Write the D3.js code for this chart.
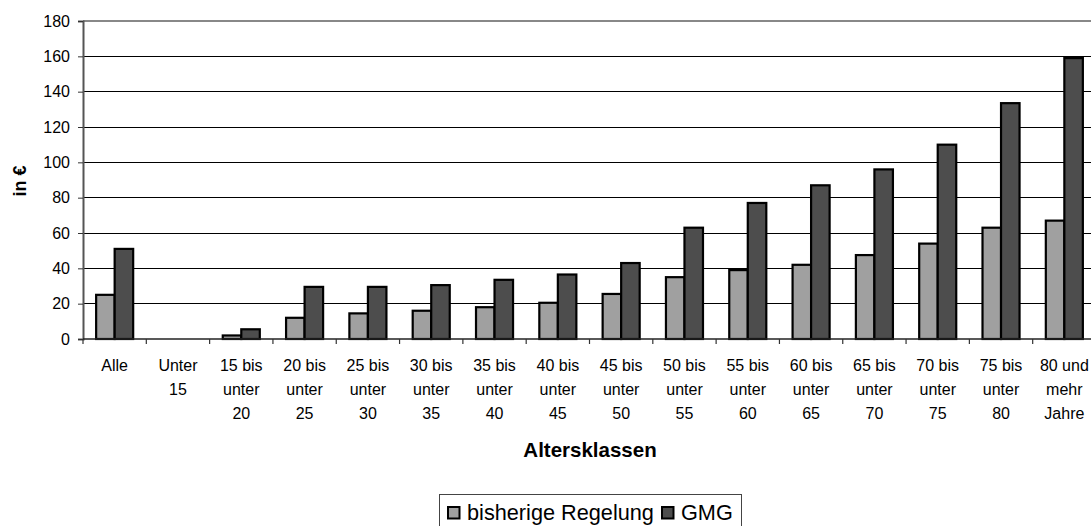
<!DOCTYPE html>
<html><head><meta charset="utf-8">
<script src="https://cdn.jsdelivr.net/npm/d3@7"></script>
<style>html,body{margin:0;padding:0;background:#fff;overflow:hidden}svg{display:block}text{font-family:"Liberation Sans",Arial,sans-serif}</style>
</head><body><svg id="c" width="1091" height="526"></svg>
<script>
const categories = [["Alle"],["Unter","15"],["15 bis","unter","20"],["20 bis","unter","25"],["25 bis","unter","30"],["30 bis","unter","35"],["35 bis","unter","40"],["40 bis","unter","45"],["45 bis","unter","50"],["50 bis","unter","55"],["55 bis","unter","60"],["60 bis","unter","65"],["65 bis","unter","70"],["70 bis","unter","75"],["75 bis","unter","80"],["80 und","mehr","Jahre"]];
const seriesNames = ["bisherige Regelung","GMG"];
const bisherige = [25, 0, 2, 12, 14.5, 16, 18, 20.5, 25.5, 35, 39, 42, 47.5, 54, 63, 67];
const gmg = [51, 0, 5.5, 29.5, 29.5, 30.5, 33.5, 36.5, 43, 63, 77, 87, 96, 110, 133.5, 159];
const yTicks = [0,20,40,60,80,100,120,140,160,180];
const colors = ["#a0a0a0","#4d4d4d"];

const svg = d3.select("#c");
const L = 83, R = 1096, T = 21, B = 339;
const keys = categories.map((c,i)=>i);
const x = d3.scaleBand().domain(keys).range([L,R]).padding(0);
const y = d3.scaleLinear().domain([0,180]).range([B,T]);
const bw = x.bandwidth(), gw = bw*0.585;
const x1 = d3.scaleBand().domain([0,1]).range([(bw-gw)/2,(bw+gw)/2]).padding(0);

// gridlines
svg.append("g").selectAll("line").data(yTicks.filter(v=>v>0&&v<180)).join("line")
  .attr("x1",L).attr("x2",R).attr("y1",d=>y(d)).attr("y2",d=>y(d))
  .attr("stroke","#000").attr("stroke-width",1).attr("shape-rendering","crispEdges");
// top border
svg.append("line").attr("x1",L).attr("x2",R).attr("y1",y(180)).attr("y2",y(180))
  .attr("stroke","#888").attr("stroke-width",2);

// y axis
const ya = svg.append("g").attr("transform",`translate(${L},0)`)
  .call(d3.axisLeft(y).tickValues(yTicks).tickSize(5).tickPadding(8));
ya.select(".domain").attr("stroke","#555").attr("stroke-width",2);
ya.selectAll(".tick line").attr("stroke","#333");
ya.selectAll("text").attr("font-size","16px").attr("fill","#000").attr("font-family","Liberation Sans, Arial, sans-serif");

// bars
const data = keys.map(i=>({i, v:[bisherige[i], gmg[i]]}));
const g = svg.append("g").selectAll("g").data(data).join("g")
  .attr("transform",d=>`translate(${x(d.i)},0)`);
g.selectAll("rect").data(d=>d.v.map((v,s)=>({v,s}))).join("rect")
  .attr("x",d=>x1(d.s)).attr("width",x1.bandwidth())
  .attr("y",d=>y(d.v)).attr("height",d=>y(0)-y(d.v))
  .attr("fill",d=>colors[d.s]).attr("stroke","#000").attr("stroke-width",2.2);

// x axis
const xa = svg.append("g").attr("transform",`translate(0,${B})`);
xa.append("line").attr("x1",L).attr("x2",R).attr("stroke","#222").attr("stroke-width",1.5);
xa.selectAll("line.tk").data(keys.concat([keys.length])).join("line").attr("class","tk")
  .attr("x1",d=>L+d*bw).attr("x2",d=>L+d*bw).attr("y1",0).attr("y2",5)
  .attr("stroke","#333").attr("stroke-width",1.2);
const lab = xa.selectAll("text").data(keys).join("text")
  .attr("x",d=>x(d)+bw/2).attr("text-anchor","middle").attr("font-size","16px").attr("fill","#000");
lab.selectAll("tspan").data(d=>categories[d].map((t,k)=>({t,k}))).join("tspan")
  .attr("x",function(){return d3.select(this.parentNode).attr("x");})
  .attr("y",d=>32+d.k*24).text(d=>d.t);

// axis titles
svg.append("text").attr("x",590).attr("y",457).attr("text-anchor","middle")
  .attr("font-size","20.5px").attr("font-weight","bold").text("Altersklassen");
svg.append("text").attr("transform","translate(26,181) rotate(-90)").attr("text-anchor","middle")
  .attr("font-size","18px").attr("font-weight","bold").text("in €");

// legend
const lg = svg.append("g");
lg.append("rect").attr("x",439.5).attr("y",494.5).attr("width",302).attr("height",40)
  .attr("fill","#fff").attr("stroke","#444").attr("stroke-width",1);
const legX = [447, 661];
const li = lg.selectAll("g").data(seriesNames).join("g").attr("transform",(d,i)=>`translate(${legX[i]},0)`);
li.append("rect").attr("x",1).attr("y",507).attr("width",11.5).attr("height",11.5)
  .attr("fill",(d,i)=>colors[i]).attr("stroke","#000").attr("stroke-width",2);
li.append("text").attr("x",20).attr("y",520).attr("font-size","21.7px").text(d=>d);
</script></body></html>
